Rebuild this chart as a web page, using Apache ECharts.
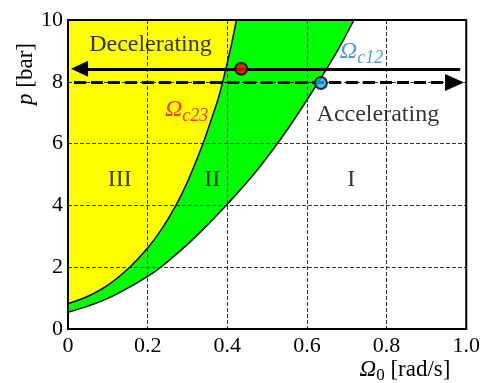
<!DOCTYPE html>
<html><head><meta charset="utf-8">
<script src="https://cdn.jsdelivr.net/npm/echarts@6/dist/echarts.min.js"></script>
<style>html,body{margin:0;padding:0;background:#fff}#c{width:483px;height:383px}</style>
</head><body><div id="c"></div>
<script>
// ---- data ----
const xTickLabels = ['0', '0.2', '0.4', '0.6', '0.8', '1.0'];
const yTickLabels = ['0', '2', '4', '6', '8', '10'];
// Omega_c23 boundary (yellow / green)
const omegaC23 = [[0,0.82],[0.05,1.06],[0.1,1.42],[0.155,2.0],[0.2,2.62],[0.236,3.25],[0.271,4.0],[0.3,4.76],[0.339,6.0],[0.364,6.94],[0.376,7.4],[0.387,7.92],[0.396,8.4],[0.41,9.18],[0.423,10]];
// Omega_c12 boundary (green / white)
const omegaC12 = [[0,0.54],[0.05,0.74],[0.1,0.99],[0.15,1.32],[0.2,1.7],[0.232,1.99],[0.3,2.74],[0.337,3.2],[0.397,4.0],[0.466,5.0],[0.524,5.97],[0.57,6.82],[0.627,7.96],[0.647,8.37],[0.68,9.08],[0.718,10]];
// arrows: [from, to]
const decelArrow = [[0.985, 8.42], [0.029, 8.42]];
const accelArrow = [[0.015, 7.98], [0.9706, 7.98]];
const redPoint = [[0.435, 8.42]];
const bluePoint = [[0.635, 7.96]];
// annotations: [x, p, text]
const annotations = [
  [0.207, 9.2, 'Decelerating'],
  [0.778, 6.94, 'Accelerating'],
  [0.130, 4.83, 'III'],
  [0.362, 4.83, 'II'],
  [0.711, 4.83, 'I']
];
const omegaLabels = [
  [0.298, 7.1, 'c23', '#ff0000'],
  [0.737, 8.98, 'c12', '#2a7fc8']
];

const FONT = 'Liberation Serif';
const chart = echarts.init(document.getElementById('c'), null, {renderer: 'canvas'});

const series = [
  {
    type: 'line', data: omegaC12, smooth: 0.3, showSymbol: false, z: 2,
    lineStyle: {color: '#000', width: 1.5},
    areaStyle: {color: '#00ff00', opacity: 1, origin: 'end'}
  },
  {
    type: 'line', data: omegaC23, smooth: 0.3, showSymbol: false, z: 2,
    lineStyle: {color: '#000', width: 1.5},
    areaStyle: {color: '#ffff00', opacity: 1, origin: 'end'}
  },
  {
    type: 'line', data: [], z: 5,
    markLine: {
      silent: true, animation: false,
      symbol: ['none', 'triangle'], symbolSize: [16, 17],
      label: {show: false},
      lineStyle: {color: '#000', width: 3, type: 'solid'},
      data: [[{coord: decelArrow[0]}, {coord: decelArrow[1]}]]
    }
  },
  {
    type: 'line', data: [], z: 5,
    markLine: {
      silent: true, animation: false,
      symbol: ['none', 'triangle'], symbolSize: [17, 19],
      label: {show: false},
      lineStyle: {color: '#000', width: 3, type: [12, 5]},
      data: [[{coord: accelArrow[0]}, {coord: accelArrow[1]}]]
    }
  },
  {
    type: 'scatter', data: redPoint, symbolSize: 12, z: 6,
    itemStyle: {color: '#ff0000', borderColor: '#000', borderWidth: 2}
  },
  {
    type: 'scatter', data: bluePoint, symbolSize: 12, z: 6,
    itemStyle: {color: '#1ea7ea', borderColor: '#000', borderWidth: 2}
  },
  {
    type: 'scatter', symbolSize: 0, z: 7,
    data: annotations.map(a => ({value: [a[0], a[1]], name: a[2]})),
    label: {show: true, position: 'inside', formatter: p => p.name,
      fontFamily: FONT, fontSize: 24, color: '#000'}
  },
  {
    type: 'scatter', symbolSize: 0, z: 7,
    data: omegaLabels.map(a => ({value: [a[0], a[1]], name: a[2],
      label: {rich: {o: {color: a[3]}, s: {color: a[3]}}}})),
    label: {show: true, position: 'inside',
      formatter: p => '{o|Ω}{s|' + p.name + '}',
      rich: {
        o: {fontFamily: FONT, fontStyle: 'italic', fontSize: 24},
        s: {fontFamily: FONT, fontStyle: 'italic', fontSize: 18, padding: [14, 0, 0, 0]}
      }
    }
  }
];

chart.setOption({
  animation: false,
  backgroundColor: '#fff',
  grid: {left: 68, right: 14, top: 20, bottom: 54, show: true, borderColor: '#000', borderWidth: 2, backgroundColor: 'transparent', z: 10},
  xAxis: {
    type: 'value', min: 0, max: 1, interval: 0.2, z: 3,
    axisLine: {show: false}, axisTick: {show: false},
    axisLabel: {fontFamily: FONT, fontSize: 22, color: '#000', margin: 6,
      formatter: (v) => xTickLabels[Math.round(v / 0.2)]},
    splitLine: {show: true, lineStyle: {color: '#000', width: 0.8, type: [4, 2]}}
  },
  yAxis: {
    type: 'value', min: 0, max: 10, interval: 2, z: 3,
    axisLine: {show: false}, axisTick: {show: false},
    axisLabel: {fontFamily: FONT, fontSize: 22, color: '#000', margin: 5,
      formatter: (v) => yTickLabels[Math.round(v / 2)]},
    splitLine: {show: true, lineStyle: {color: '#000', width: 0.8, type: [4, 2]}}
  },
  graphic: [
    {type: 'text', x: 26, y: 74, rotation: Math.PI / 2,
      style: {text: '{i|p} [bar]', align: 'center', verticalAlign: 'middle',
        font: '23px "Liberation Serif"', fill: '#000',
        rich: {i: {fontStyle: 'italic', fontFamily: FONT, fontSize: 23}}}},
    {type: 'text', x: 405, y: 370,
      style: {text: '{o|Ω}{s|0} [rad/s]', align: 'center', verticalAlign: 'middle',
        font: '23px "Liberation Serif"', fill: '#000',
        rich: {o: {fontStyle: 'italic', fontFamily: FONT, fontSize: 23},
               s: {fontFamily: FONT, fontSize: 17, padding: [12, 0, 0, 0]}}}}
  ],
  series: series
});
</script></body></html>
